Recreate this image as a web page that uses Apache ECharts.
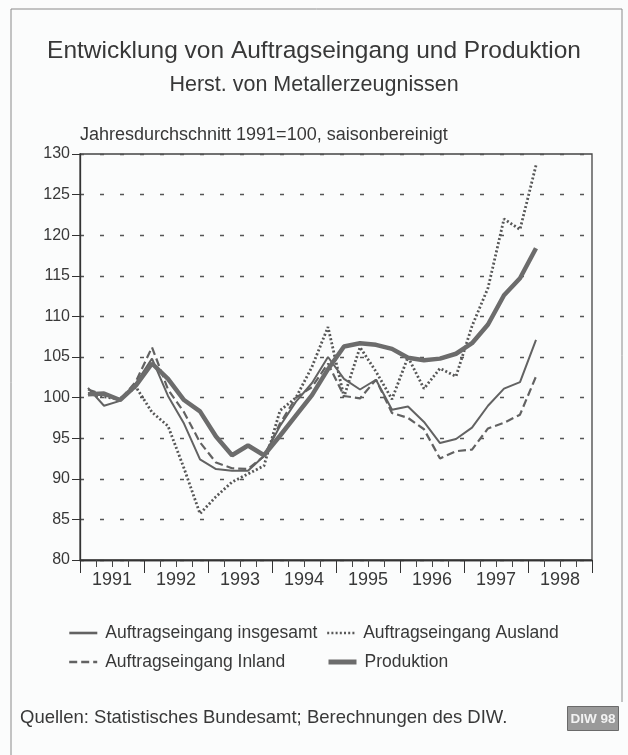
<!DOCTYPE html>
<html>
<head>
<meta charset="utf-8">
<script src="https://cdn.jsdelivr.net/npm/echarts@6/dist/echarts.min.js"></script>
<style>
html,body{margin:0;padding:0;background:#fbfcfc;}
#chart{width:628px;height:755px;}
</style>
</head>
<body>
<div id="chart"></div>
<script>
// Quartale 1991 I bis 1998 IV
var quarters = [];
var years = ['1991','1992','1993','1994','1995','1996','1997','1998'];
for (var y = 0; y < years.length; y++) {
    for (var q = 1; q <= 4; q++) {
        quarters.push(years[y] + ' ' + ['I','II','III','IV'][q-1]);
    }
}

// Jahresdurchschnitt 1991=100, saisonbereinigt (1991 I - 1998 I)
var insgesamt = [101.2, 99.0, 99.6, 101.8, 104.8, 100.2, 96.8, 92.4, 91.2, 91.0, 91.0, 92.8,
                 96.5, 99.5, 101.8, 105.0, 102.3, 101.0, 102.2, 98.5, 98.9, 97.0, 94.4, 94.9,
                 96.3, 99.0, 101.1, 101.9, 107.1];
var ausland   = [100.5, 100.1, 99.8, 101.3, 98.2, 96.5, 91.3, 85.7, 87.8, 89.6, 90.6, 91.6,
                 98.4, 100.0, 103.8, 108.7, 100.1, 106.2, 103.2, 99.8, 105.0, 101.1, 103.6, 102.6,
                 108.8, 113.5, 122.0, 120.7, 128.6];
var inland    = [101.0, 100.3, 99.7, 102.0, 106.2, 101.0, 98.2, 94.5, 92.0, 91.3, 91.2, 92.8,
                 96.8, 100.0, 101.3, 104.2, 100.2, 99.9, 102.2, 98.1, 97.5, 96.1, 92.5, 93.4,
                 93.6, 96.2, 96.9, 97.9, 102.6];
var produktion= [100.4, 100.5, 99.7, 101.5, 104.2, 102.3, 99.7, 98.3, 95.2, 92.9, 94.1, 92.9,
                 95.3, 97.8, 100.3, 103.5, 106.3, 106.7, 106.5, 106.0, 104.9, 104.6, 104.8, 105.4,
                 106.7, 109.0, 112.6, 114.7, 118.4];

var names = ['Auftragseingang insgesamt','Auftragseingang Ausland','Auftragseingang Inland','Produktion'];

var txt = '#383838';
var lineCol = '#626262';
var font = 'Liberation Sans';

var myChart = echarts.init(document.getElementById('chart'));
var option = {
    backgroundColor: '#fbfcfc',
    animation: false,
    textStyle: {fontFamily: font},
    title: [
        {
            text: 'Entwicklung von Auftragseingang und Produktion',
            left: 'center', top: 39, padding: 0,
            textStyle: {fontSize: 24.5, fontWeight: 'normal', color: txt, fontFamily: font}
        },
        {
            text: 'Herst. von Metallerzeugnissen',
            left: 'center', top: 74, padding: 0,
            textStyle: {fontSize: 21.5, fontWeight: 'normal', color: txt, fontFamily: font}
        },
        {
            text: 'Jahresdurchschnitt 1991=100, saisonbereinigt',
            left: 80, top: 126, padding: 0,
            textStyle: {fontSize: 18, fontWeight: 'normal', color: txt, fontFamily: font}
        }
    ],
    grid: {
        left: 80, right: 36, top: 154, bottom: 195,
        show: true, borderColor: '#444', borderWidth: 1.3, backgroundColor: 'transparent'
    },
    legend: [
        {data: [names[0]], left: 63, top: 619, lineStyle: {width: 2.6}},
        {data: [names[1]], left: 321, top: 619, lineStyle: {width: 2.4}},
        {data: [names[2]], left: 63, top: 648, lineStyle: {width: 2.4}},
        {data: [names[3]], left: 321, top: 648, lineStyle: {width: 5}}
    ].map(function (l) {
        l.itemWidth = 28; l.itemHeight = 14;
        l.itemStyle = {opacity: 0};
        l.textStyle = {fontSize: 17.5, color: txt, fontFamily: font, padding: [0, 0, 0, 3]};
        l.selectedMode = false;
        return l;
    }),
    xAxis: [
        {
            type: 'category', data: quarters, boundaryGap: true,
            axisLine: {lineStyle: {color: '#333', width: 1.3}},
            axisTick: {show: true, interval: 0, length: 7, lineStyle: {color: '#444'}},
            axisLabel: {show: false},
            splitLine: {show: false}
        },
        {
            type: 'category', data: years, boundaryGap: true, position: 'bottom',
            axisLine: {lineStyle: {color: '#333', width: 1.3}},
            axisTick: {show: true, interval: 0, length: 13, lineStyle: {color: '#333'}},
            axisLabel: {show: true, interval: 0, fontSize: 18, color: txt, margin: 11, fontFamily: font},
            splitLine: {show: false}
        }
    ],
    yAxis: {
        type: 'value', min: 80, max: 130, interval: 5,
        axisLine: {show: true, lineStyle: {color: '#333', width: 1.3}},
        axisTick: {show: true, length: 8, lineStyle: {color: '#333'}},
        axisLabel: {fontSize: 16, color: txt, margin: 10, fontFamily: font},
        splitLine: {show: true, lineStyle: {color: '#555', type: [4, 16], width: 1.3}}
    },
    series: [
        {
            name: names[0], type: 'line', data: insgesamt, symbol: 'none', z: 3,
            lineStyle: {color: lineCol, width: 2, type: 'solid'}, itemStyle: {color: lineCol}
        },
        {
            name: names[1], type: 'line', data: ausland, symbol: 'none', z: 2,
            lineStyle: {color: '#575757', width: 2.8, type: [2, 2.2]}, itemStyle: {color: '#575757'}
        },
        {
            name: names[2], type: 'line', data: inland, symbol: 'none', z: 3,
            lineStyle: {color: lineCol, width: 2.2, type: [8, 4]}, itemStyle: {color: lineCol}
        },
        {
            name: names[3], type: 'line', data: produktion, symbol: 'none', z: 4,
            lineStyle: {color: '#6c6c6c', width: 4.5, type: 'solid'}, itemStyle: {color: '#6c6c6c'}
        }
    ],
    graphic: [
        {
            type: 'polyline', silent: true,
            shape: {points: [[11, 760], [11, 9], [622, 9], [622, 702]]},
            style: {fill: 'none', stroke: '#8a8a8a', lineWidth: 1}
        },
        {
            type: 'text', left: 20, top: 708,
            style: {text: 'Quellen: Statistisches Bundesamt; Berechnungen des DIW.', fontSize: 18.5, fill: txt, fontFamily: font}
        },
        {
            type: 'group', left: 567, top: 706,
            children: [
                {type: 'rect', shape: {x: 0, y: 0, width: 51, height: 24},
                 style: {fill: '#9a9a9a', stroke: '#6a6a6a', lineWidth: 1}},
                {type: 'text', x: 25.5, y: 12.5,
                 style: {text: 'DIW 98', fontSize: 13.5, fontWeight: 'bold', fill: '#f2f2f2', align: 'center', verticalAlign: 'middle', fontFamily: font}}
            ]
        }
    ]
};
myChart.setOption(option);
</script>
</body>
</html>
